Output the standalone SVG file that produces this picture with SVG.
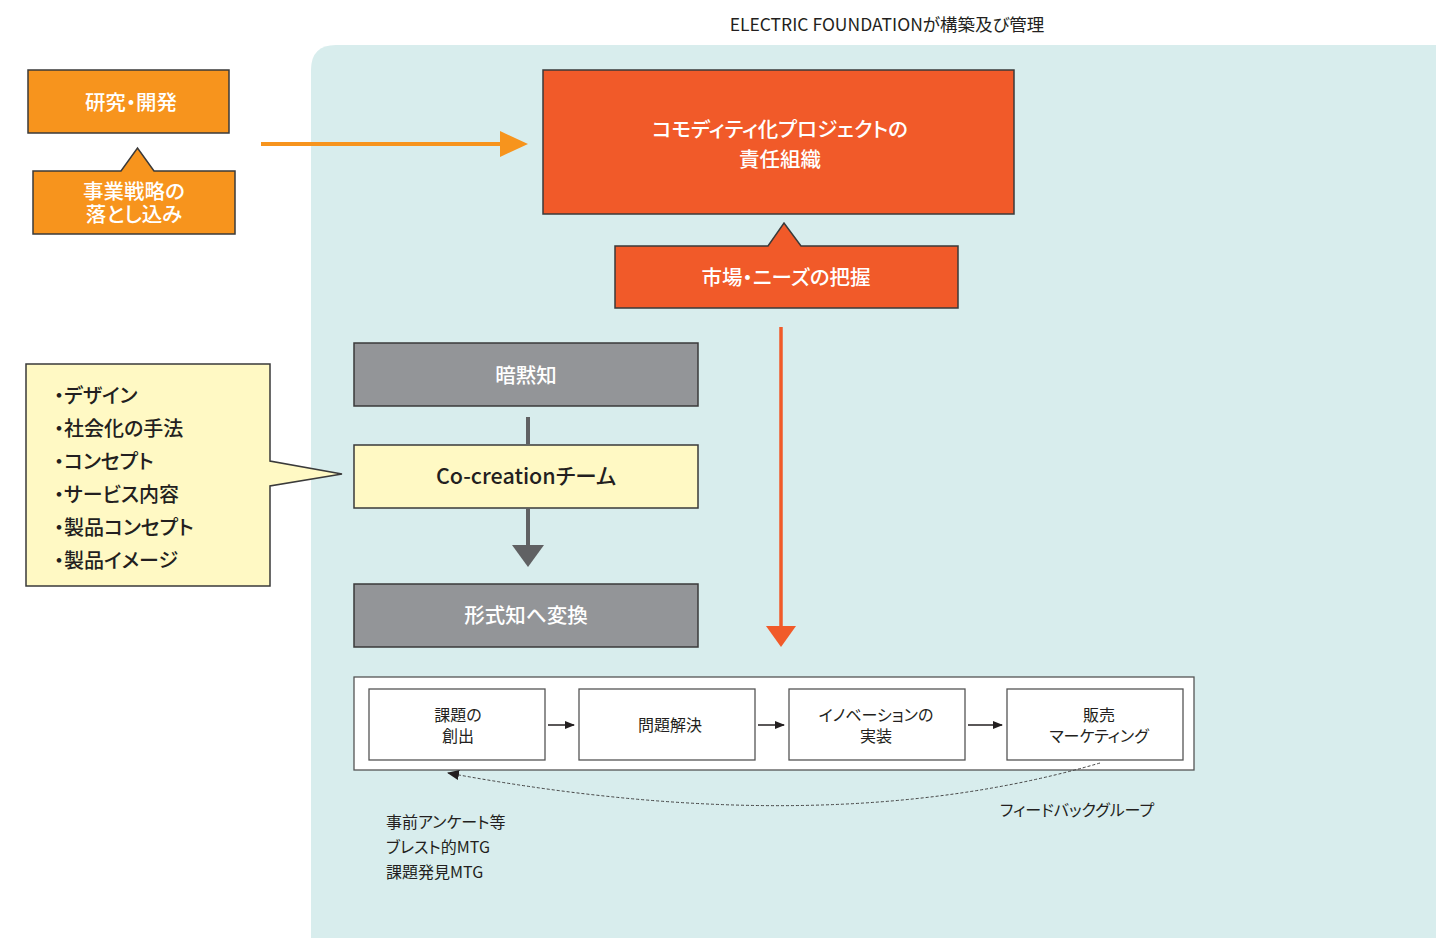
<svg xmlns="http://www.w3.org/2000/svg" width="1436" height="938" viewBox="0 0 1436 938">
<defs>
<style>
text{font-family:"Noto Sans CJK JP","Noto Sans",sans-serif;font-feature-settings:"palt";}
.wt{fill:#ffffff;font-size:20.5px;text-anchor:middle;font-weight:500;}
.dk{fill:#231f20;font-weight:500;}
.org{fill:#f7941d;stroke:#3a3a3a;stroke-width:1.5;}
.red{fill:#f15a29;stroke:#3a3a3a;stroke-width:1.5;}
.gry{fill:#939598;stroke:#3a3a3a;stroke-width:1.5;}
.ylw{fill:#fff9c4;stroke:#3a3a3a;stroke-width:1.5;}
.step{fill:#ffffff;stroke:#555;stroke-width:1.3;}
.st{fill:#231f20;font-size:16px;text-anchor:middle;}
.sm{fill:#231f20;font-size:16px;}
</style>
<marker id="sa" markerWidth="10" markerHeight="8" refX="9" refY="4" orient="auto" markerUnits="userSpaceOnUse">
<path d="M0,0 L10,4 L0,8 Z" fill="#231f20"/>
</marker>
<marker id="fb" markerWidth="12" markerHeight="10" refX="11" refY="5" orient="auto" markerUnits="userSpaceOnUse">
<path d="M0,0 L12,5 L0,10 Z" fill="#231f20"/>
</marker>
</defs>
<rect x="0" y="0" width="1436" height="938" fill="#ffffff"/>
<path d="M311,938 L311,70 Q311,45 336,45 L1436,45 L1436,938 Z" fill="#d8eded"/>
<text x="887" y="31" font-size="17.5" text-anchor="middle" fill="#231f20">ELECTRIC FOUNDATIONが構築及び管理</text>

<g id="research">
<rect class="org" x="28" y="70" width="201" height="63"/>
<text class="wt" x="131" y="110">研究・開発</text>
</g>
<g id="strategy">
<path class="org" d="M33,171 L121,171 L137.5,148 L154,171 L235,171 L235,234 L33,234 Z"/>
<text class="wt" x="134" y="199" font-size="19">事業戦略の</text>
<text class="wt" x="134" y="222" font-size="19">落とし込み</text>
</g>
<g id="responsible">
<rect class="red" x="543" y="70" width="471" height="144"/>
<text class="wt" x="780" y="137" font-size="21.5">コモディティ化プロジェクトの</text>
<text class="wt" x="780" y="167" font-size="21.5">責任組織</text>
</g>
<g id="market">
<path class="red" d="M615,246 L768,246 L784,223 L801,246 L958,246 L958,308 L615,308 Z"/>
<text class="wt" x="786" y="285" font-size="21.5">市場・ニーズの把握</text>
</g>
<g id="items">
<path class="ylw" d="M26,364 L270,364 L270,461 L342,474 L270,486 L270,586 L26,586 Z"/>
<text class="dk" font-size="20" x="54" y="403">・デザイン</text>
<text class="dk" font-size="20" x="54" y="436">・社会化の手法</text>
<text class="dk" font-size="20" x="54" y="469">・コンセプト</text>
<text class="dk" font-size="20" x="54" y="502">・サービス内容</text>
<text class="dk" font-size="20" x="54" y="535">・製品コンセプト</text>
<text class="dk" font-size="20" x="54" y="568">・製品イメージ</text>
</g>
<g id="tacit">
<rect class="gry" x="354" y="343" width="344" height="63"/>
<text class="wt" x="526" y="383">暗黙知</text>
</g>
<g id="cocreation">
<rect class="ylw" x="354" y="445" width="344" height="63"/>
<text class="dk" x="526" y="484" font-size="21.5" text-anchor="middle">Co-creationチーム</text>
</g>
<g id="explicit">
<rect class="gry" x="354" y="584" width="344" height="63"/>
<text class="wt" x="526" y="623">形式知へ変換</text>
</g>
<g id="process">
<rect x="354" y="677" width="840" height="93" fill="#ffffff" stroke="#555" stroke-width="1.3"/>
</g>
<g id="step1">
<rect class="step" x="369" y="689" width="176" height="71"/>
<text class="st" x="458" y="721">課題の</text>
<text class="st" x="458" y="742">創出</text>
</g>
<g id="step2">
<rect class="step" x="579" y="689" width="176" height="71"/>
<text class="st" x="670" y="731">問題解決</text>
</g>
<g id="step3">
<rect class="step" x="789" y="689" width="176" height="71"/>
<text class="st" x="876" y="721">イノベーションの</text>
<text class="st" x="876" y="742">実装</text>
</g>
<g id="step4">
<rect class="step" x="1007" y="689" width="176" height="71"/>
<text class="st" x="1099" y="721">販売</text>
<text class="st" x="1099" y="742">マーケティング</text>
</g>
<g id="notes">
<text class="sm" x="386" y="828">事前アンケート等</text>
<text class="sm" x="386" y="853">ブレスト的MTG</text>
<text class="sm" x="386" y="878">課題発見MTG</text>
<text class="sm" x="1000" y="816">フィードバックグループ</text>
</g>

<g id="connectors">
<path d="M261,144 L502,144" stroke="#f7941d" stroke-width="4" fill="none"/>
<path d="M500,131 L528,144 L500,157 Z" fill="#f7941d"/>
<path d="M781,327 L781,628" stroke="#f15a29" stroke-width="3.5" fill="none"/>
<path d="M766,626 L781,647 L796,626 Z" fill="#f15a29"/>
<path d="M528,417 L528,444" stroke="#606163" stroke-width="4" fill="none"/>
<path d="M528,508 L528,547" stroke="#606163" stroke-width="4" fill="none"/>
<path d="M512,545 L528,567 L544,545 Z" fill="#606163"/>
<path d="M548,725 L574,725" stroke="#231f20" stroke-width="1.5" marker-end="url(#sa)"/>
<path d="M758,725 L784,725" stroke="#231f20" stroke-width="1.5" marker-end="url(#sa)"/>
<path d="M968,725 L1002,725" stroke="#231f20" stroke-width="1.5" marker-end="url(#sa)"/>
<path d="M1100,763 Q826,843 448,773" stroke="#444" stroke-width="1" stroke-dasharray="3,2" fill="none" marker-end="url(#fb)"/>
</g>
</svg>
